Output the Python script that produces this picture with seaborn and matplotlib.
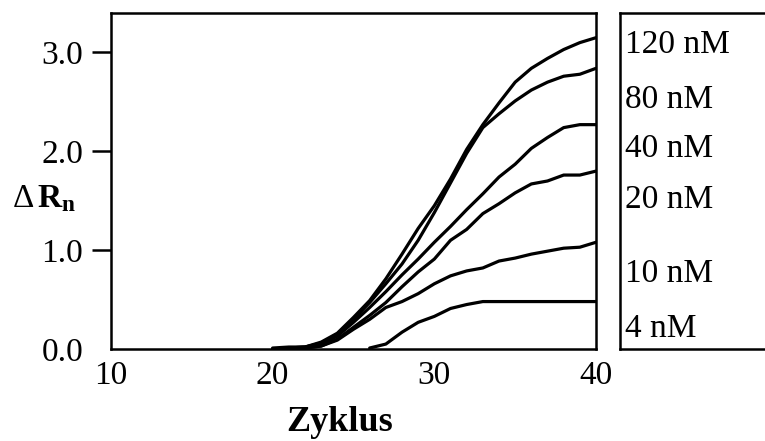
import pandas as pd
import seaborn as sns
import matplotlib.pyplot as plt

cycles = [20, 21, 22, 23, 24, 25, 26, 27, 28, 29, 30,
          31, 32, 33, 34, 35, 36, 37, 38, 39, 40]
concs = ['120 nM', '80 nM', '40 nM', '20 nM', '10 nM', '4 nM']
r120 = [0.01, 0.02, 0.02, 0.07, 0.16, 0.32, 0.49, 0.71, 0.96, 1.22, 1.45,
        1.72, 2.02, 2.27, 2.49, 2.70, 2.84, 2.94, 3.03, 3.10, 3.15]
r80 = [0.00, 0.01, 0.02, 0.06, 0.15, 0.30, 0.47, 0.66, 0.86, 1.10, 1.38,
       1.68, 1.98, 2.24, 2.38, 2.51, 2.62, 2.70, 2.76, 2.78, 2.84]
r40 = [0.00, 0.01, 0.02, 0.05, 0.13, 0.27, 0.42, 0.58, 0.75, 0.91, 1.08,
       1.24, 1.41, 1.57, 1.74, 1.87, 2.03, 2.14, 2.24, 2.27, 2.27]
r20 = [0.00, 0.00, 0.01, 0.03, 0.10, 0.22, 0.34, 0.47, 0.63, 0.78, 0.91,
       1.10, 1.21, 1.37, 1.47, 1.58, 1.67, 1.70, 1.76, 1.76, 1.80]
r10 = [0.00, 0.00, 0.01, 0.03, 0.09, 0.20, 0.30, 0.42, 0.48, 0.56, 0.66,
       0.74, 0.79, 0.82, 0.89, 0.92, 0.96, 0.99, 1.02, 1.03, 1.08]
r4 = [None, None, None, None, None, None, 0.01, 0.05, 0.17, 0.27, 0.33,
      0.41, 0.45, 0.48, 0.48, 0.48, 0.48, 0.48, 0.48, 0.48, 0.48]
yticks = [0, 1, 2, 3]
ytick_labels = ['0.0', '1.0', '2.0', '3.0']
xticks = [10, 20, 30, 40]

rows = []
for name, vals in zip(concs, [r120, r80, r40, r20, r10, r4]):
    for c, v in zip(cycles, vals):
        if v is not None:
            rows.append({'Zyklus': c, 'dRn': v, 'conc': name})
df = pd.DataFrame(rows)

sns.set_style('white')
plt.rcParams['font.family'] = ['Liberation Serif', 'DejaVu Serif']
plt.rcParams['text.color'] = 'black'
plt.rcParams['axes.labelcolor'] = 'black'
plt.rcParams['mathtext.fontset'] = 'custom'
plt.rcParams['mathtext.rm'] = 'Liberation Serif'
plt.rcParams['mathtext.bf'] = 'Liberation Serif:bold'
plt.rcParams['mathtext.it'] = 'Liberation Serif:italic'

fig = plt.figure(figsize=(7.65, 4.41), dpi=100)
ax = fig.add_axes([0.1451, 0.2086, 0.634, 0.762])
sns.lineplot(ax=ax, data=df, x='Zyklus', y='dRn', hue='conc',
             palette=['black'] * len(concs), linewidth=2.3, legend=False)
ax.set_xlim(10, 40)
ax.set_ylim(0, 3.4)
ax.set_xticks(xticks)
ax.set_xticklabels([str(t) for t in xticks])
ax.set_yticks(yticks)
ax.set_yticklabels(ytick_labels)
ax.tick_params(axis='x', direction='in', length=9, width=1.8, pad=8,
               labelsize=24, colors='black')
ax.tick_params(axis='y', direction='out', length=14, width=1.8, pad=6,
               labelsize=24, colors='black', left=True)
ax.yaxis.get_major_ticks()[0].tick1line.set_visible(False)
for s in ax.spines.values():
    s.set_linewidth(1.8)
    s.set_color('black')

ax.set_xlabel('Zyklus', fontsize=26, fontweight='bold')
ax.xaxis.label.set_va('baseline')
ax.xaxis.set_label_coords(0.472, -0.245)
ax.set_ylabel(r'$\Delta\,\mathbf{R}_{\mathbf{n}}$', fontsize=24, rotation=0)
ax.yaxis.label.set_va('baseline')
ax.yaxis.label.set_ha('center')
ax.yaxis.set_label_coords(-0.138, 0.423)

# label panel beside the plot
lab = fig.add_axes([0.810, 0.2086, 0.3, 0.762])
lab.set_ylim(0, 3.4)
lab.set_xticks([])
lab.set_yticks([])
for s in lab.spines.values():
    s.set_linewidth(1.8)
    s.set_color('black')
label_y = [2.99, 2.44, 1.94, 1.43, 0.68, 0.12]
for name, y in zip(concs, label_y):
    lab.text(0.025, y, name, fontsize=24, va='baseline', ha='left',
             transform=lab.get_yaxis_transform())

plt.savefig('out.png', dpi=100)
